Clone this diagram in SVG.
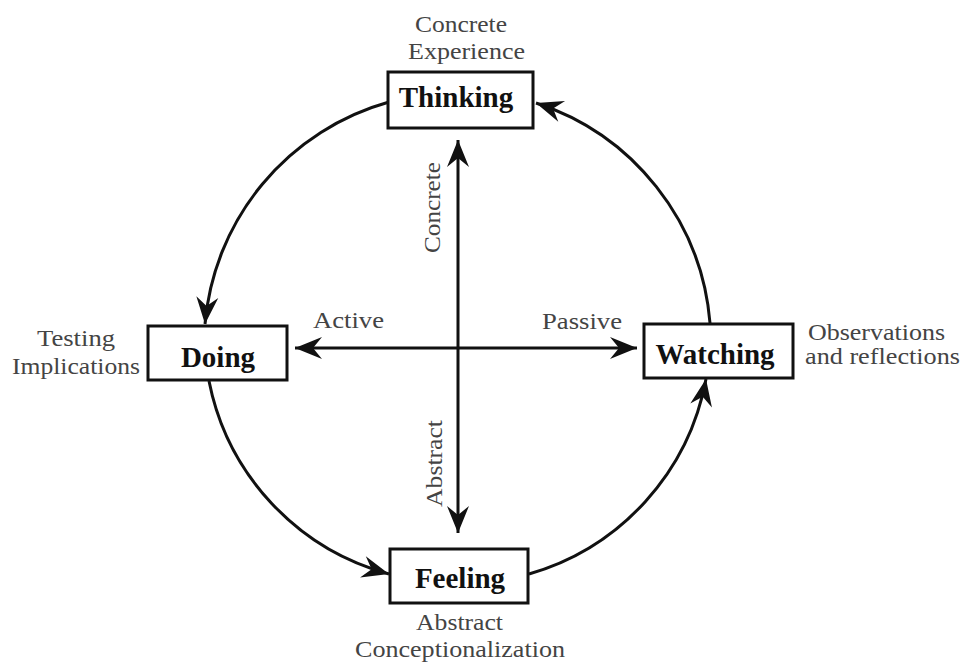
<svg xmlns="http://www.w3.org/2000/svg" width="964" height="664" viewBox="0 0 964 664">
<style>
.box{fill:#fff;stroke:#111;stroke-width:3}
.node{font-family:"Liberation Serif","Times New Roman",serif;font-weight:bold;font-size:29px;fill:#111;text-anchor:middle}
.lbl{font-family:"Liberation Serif","Times New Roman",serif;font-size:24px;fill:#444}
.conn{fill:none;stroke:#111;stroke-width:3}
</style>
<defs>
<marker id="ah" markerUnits="userSpaceOnUse" markerWidth="30" markerHeight="30" refX="0" refY="0" orient="auto-start-reverse" overflow="visible">
<path d="M0,0 L-27,-11 L-18,0 L-27,11 Z" fill="#111"/>
</marker>
</defs>
<rect width="964" height="664" fill="#fff"/>
<g id="connectors">
<path class="conn" d="M389,102 A253,253 0 0 0 205,324" marker-end="url(#ah)"/>
<path class="conn" d="M710,323 A253,253 0 0 0 536,103" marker-end="url(#ah)"/>
<path class="conn" d="M209,381 A250,250 0 0 0 389,574" marker-end="url(#ah)"/>
<path class="conn" d="M529,574 A250,250 0 0 0 706,379" marker-end="url(#ah)"/>
<path class="conn" d="M458,140 L458,533" marker-start="url(#ah)" marker-end="url(#ah)"/>
<path class="conn" d="M295,348 L637,348" marker-start="url(#ah)" marker-end="url(#ah)"/>
</g>
<g id="thinking">
<rect class="box" x="388" y="72" width="145" height="56"/>
<text class="node" x="456" y="107">Thinking</text>
<text class="lbl" x="415" y="32" textLength="92" lengthAdjust="spacingAndGlyphs">Concrete</text>
<text class="lbl" x="408" y="59" textLength="117" lengthAdjust="spacingAndGlyphs">Experience</text>
</g>
<g id="doing">
<rect class="box" x="148" y="326" width="139" height="54"/>
<text class="node" x="218" y="367">Doing</text>
<text class="lbl" x="37" y="346" textLength="78" lengthAdjust="spacingAndGlyphs">Testing</text>
<text class="lbl" x="12" y="374" textLength="128" lengthAdjust="spacingAndGlyphs">Implications</text>
</g>
<g id="watching">
<rect class="box" x="644" y="324" width="149" height="54"/>
<text class="node" x="715" y="364">Watching</text>
<text class="lbl" x="808" y="340" textLength="137" lengthAdjust="spacingAndGlyphs">Observations</text>
<text class="lbl" x="805" y="364" textLength="155" lengthAdjust="spacingAndGlyphs">and reflections</text>
</g>
<g id="feeling">
<rect class="box" x="390" y="549" width="138" height="54"/>
<text class="node" x="460" y="588">Feeling</text>
<text class="lbl" x="416" y="630" textLength="87" lengthAdjust="spacingAndGlyphs">Abstract</text>
<text class="lbl" x="355" y="657" textLength="210" lengthAdjust="spacingAndGlyphs">Conceptionalization</text>
</g>
<g id="axis-labels">
<text class="lbl" x="313" y="328" textLength="71" lengthAdjust="spacingAndGlyphs">Active</text>
<text class="lbl" x="542" y="329" textLength="80" lengthAdjust="spacingAndGlyphs">Passive</text>
<text class="lbl" transform="translate(440,253) rotate(-90)" textLength="91" lengthAdjust="spacingAndGlyphs">Concrete</text>
<text class="lbl" transform="translate(442,507) rotate(-90)" textLength="87" lengthAdjust="spacingAndGlyphs">Abstract</text>
</g>
</svg>
